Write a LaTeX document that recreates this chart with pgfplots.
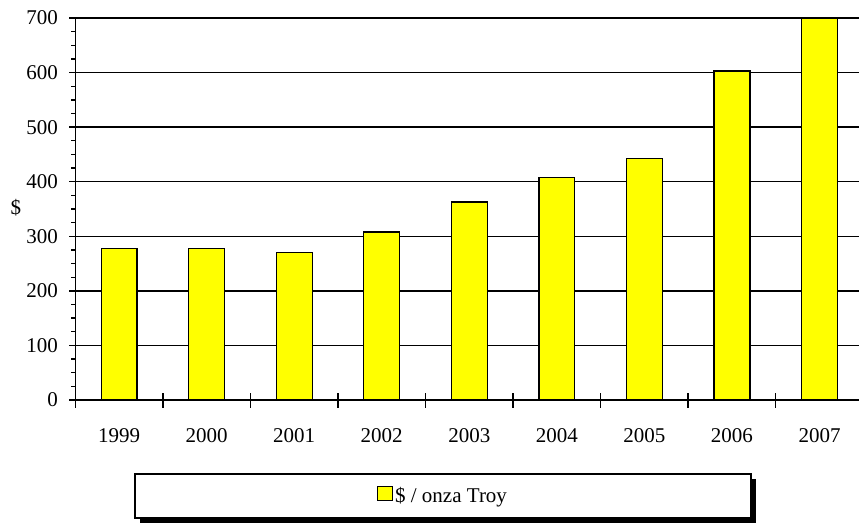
\documentclass[border=0pt]{standalone}
\usepackage{fontspec}
\setmainfont{Liberation Serif}
\usepackage{pgfplots}
\pgfplotsset{compat=1.18}
\definecolor{baryellow}{RGB}{255,255,0}

\begin{document}
\begin{tikzpicture}
\useasboundingbox (-75.3bp,-124bp) rectangle (783.7bp,400bp);
% legend frame with its shadow
\fill[black] (64.7bp,-123bp) rectangle (680.7bp,-79bp);
\draw[black, line width=1.2bp, fill=white] (59.7bp,-118bp) rectangle (675.7bp,-74bp);
\begin{axis}[
    scale only axis,
    width=788bp, height=382bp,
    at={(0,0)}, anchor=south west,
    ybar, bar width=0.41,
    xmin=-0.5, xmax=8.5,
    ymin=0, ymax=700,
    enlargelimits=false,
    axis x line*=bottom, axis y line*=left,
    axis line style={black, line width=1.5bp, -},
    ytick={0,100,...,700},
    minor y tick num=3,
    tick align=outside,
    major tick length=6bp, minor tick length=4bp,
    tick style={black, line width=1.3bp},
    xtick={0,...,8},
    xticklabels={1999,2000,2001,2002,2003,2004,2005,2006,2007},
    xtick style={draw=none},
    extra x ticks={-0.5,0.5,...,7.5},
    extra x tick labels={},
    extra x tick style={major tick length=15bp, tick align=center,
        xtick style={draw=black, line width=1.5bp}},
    ymajorgrids,
    major grid style={black, line width=1.5bp},
    /pgf/number format/assume math mode=true,
    every tick label/.append style={font=\fontsize{21bp}{25bp}\selectfont, black},
    xticklabel style={yshift=-19bp},
    yticklabel style={xshift=-8bp},
    ylabel={\$},
    ylabel style={rotate=-90, at={(axis description cs:-0.0753,0.503)}, anchor=center,
        font=\fontsize{21bp}{25bp}\selectfont},
    legend style={at={(axis description cs:0.4666,-0.2513)}, anchor=center,
        draw=none, fill=none,
        font=\fontsize{21bp}{25bp}\selectfont},
    legend image code/.code={\draw[line width=1.2bp, draw=black, fill=baryellow] (0bp,-4bp) rectangle (15bp,10bp);},
]
\addplot[draw=black, fill=baryellow, line width=1.2bp] coordinates {
    (0,277)
    (1,277)
    (2,270)
    (3,308)
    (4,363)
    (5,407)
    (6,442)
    (7,603)
    (8,700)
};
\legend{\$ / onza Troy}
\end{axis}
\end{tikzpicture}
\end{document}
